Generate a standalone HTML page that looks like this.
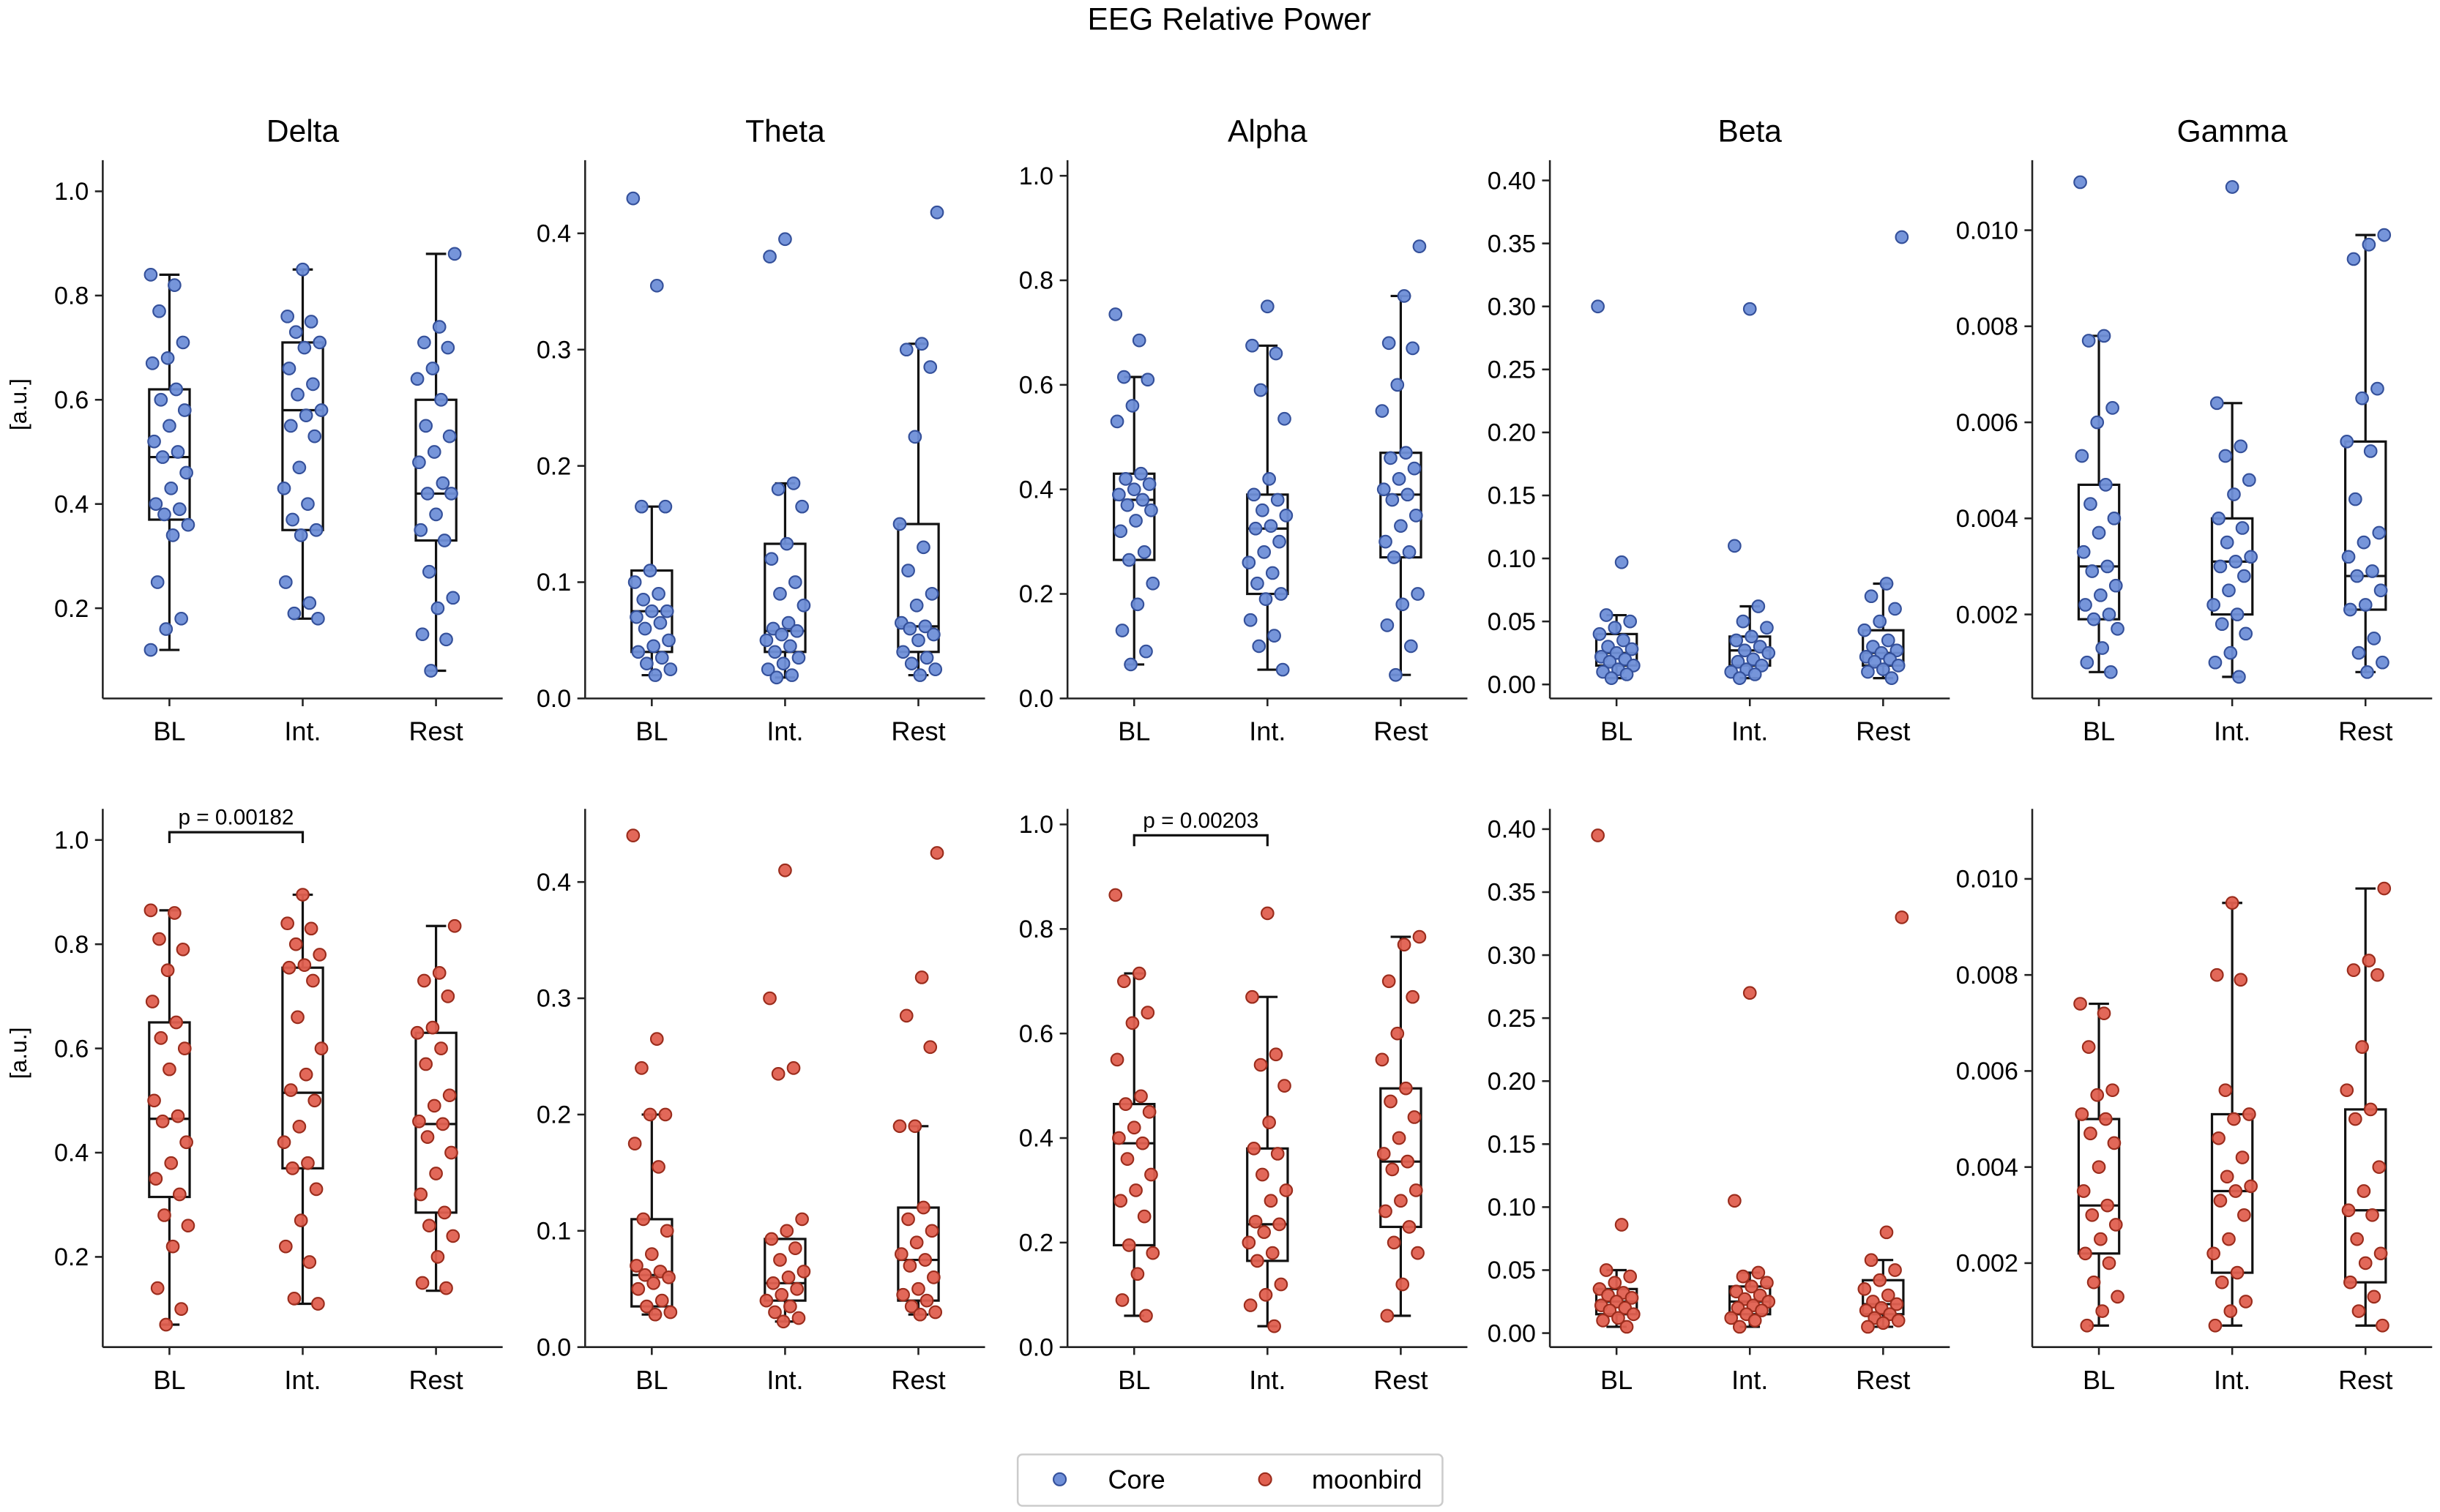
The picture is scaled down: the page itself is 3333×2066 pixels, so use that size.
<!DOCTYPE html>
<html><head><meta charset="utf-8"><style>
html,body{margin:0;padding:0;background:#fff}
svg{display:block;font-family:"Liberation Sans",Arial,sans-serif}
</style></head><body>
<svg id="fig" width="3333" height="2066" viewBox="0 0 1568 972" xmlns="http://www.w3.org/2000/svg">
<text x="790" y="19" font-size="20" text-anchor="middle">EEG Relative Power</text>
<g>
<rect x="654" y="935" width="273" height="33" rx="3" fill="#fff" stroke="#ccc" stroke-width="1.2"/>
<circle cx="681" cy="951" r="4" fill="#6f8fd8" stroke="#34509a" stroke-width="1"/>
<text x="712" y="957" font-size="17">Core</text>
<circle cx="813" cy="951" r="4" fill="#e06050" stroke="#9a2c1c" stroke-width="1"/>
<text x="843" y="957" font-size="17">moonbird</text>
</g>
</svg>
<script>
const bands=["Delta","Theta","Alpha","Beta","Gamma"];
const categories=["BL","Int.","Rest"];
// Per-band y ticks
const ticksDelta=[0.2,0.4,0.6,0.8,1.0];
const ticksTheta=[0.0,0.1,0.2,0.3,0.4];
const ticksAlpha=[0.0,0.2,0.4,0.6,0.8,1.0];
const ticksBeta=[0.00,0.05,0.10,0.15,0.20,0.25,0.30,0.35,0.40];
const ticksGamma=[0.002,0.004,0.006,0.008,0.010];
const tickDecimals=[1,1,1,2,3];
// Core (row 1) points
const coreDelta=[
[0.84,0.82,0.77,0.71,0.68,0.67,0.62,0.60,0.58,0.55,0.52,0.50,0.49,0.46,0.43,0.40,0.39,0.38,0.36,0.34,0.25,0.18,0.16,0.12],
[0.85,0.76,0.75,0.73,0.71,0.70,0.66,0.63,0.61,0.58,0.57,0.55,0.53,0.47,0.43,0.40,0.37,0.35,0.34,0.25,0.21,0.19,0.18],
[0.88,0.74,0.71,0.70,0.66,0.64,0.60,0.55,0.53,0.50,0.48,0.44,0.42,0.42,0.38,0.35,0.33,0.27,0.22,0.20,0.15,0.14,0.08]];
const coreTheta=[
[0.43,0.355,0.165,0.165,0.11,0.10,0.09,0.085,0.075,0.075,0.07,0.065,0.06,0.05,0.045,0.04,0.035,0.03,0.025,0.02],
[0.395,0.38,0.185,0.18,0.165,0.133,0.12,0.10,0.09,0.08,0.065,0.06,0.058,0.055,0.05,0.045,0.04,0.035,0.03,0.025,0.02,0.018],
[0.418,0.305,0.30,0.285,0.225,0.15,0.13,0.11,0.09,0.08,0.065,0.062,0.06,0.055,0.05,0.04,0.035,0.03,0.025,0.02]];
const coreAlpha=[
[0.735,0.685,0.615,0.61,0.56,0.53,0.43,0.42,0.41,0.40,0.39,0.38,0.37,0.36,0.34,0.32,0.28,0.265,0.22,0.18,0.13,0.09,0.065],
[0.75,0.675,0.66,0.59,0.535,0.42,0.39,0.38,0.36,0.35,0.33,0.325,0.30,0.28,0.26,0.24,0.22,0.20,0.19,0.15,0.12,0.10,0.055],
[0.865,0.77,0.68,0.67,0.6,0.55,0.47,0.46,0.44,0.42,0.40,0.39,0.38,0.35,0.33,0.30,0.28,0.27,0.2,0.18,0.14,0.1,0.045]];
const coreBeta=[
[0.30,0.097,0.055,0.05,0.045,0.04,0.035,0.03,0.028,0.025,0.022,0.02,0.018,0.015,0.012,0.01,0.008,0.005],
[0.298,0.11,0.062,0.05,0.045,0.038,0.035,0.03,0.027,0.025,0.02,0.018,0.015,0.012,0.01,0.008,0.005],
[0.355,0.08,0.07,0.06,0.05,0.043,0.035,0.03,0.027,0.025,0.022,0.02,0.018,0.015,0.012,0.01,0.005]];
const coreGamma=[
[0.011,0.0078,0.0077,0.0063,0.0060,0.0053,0.0047,0.0043,0.0040,0.0037,0.0033,0.0030,0.0029,0.0026,0.0024,0.0022,0.0020,0.0019,0.0017,0.0013,0.0010,0.0008],
[0.0109,0.0064,0.0055,0.0053,0.0048,0.0045,0.0040,0.0038,0.0035,0.0032,0.0031,0.0030,0.0028,0.0025,0.0022,0.0020,0.0018,0.0016,0.0012,0.0010,0.0007],
[0.0099,0.0097,0.0094,0.0067,0.0065,0.0056,0.0054,0.0044,0.0037,0.0035,0.0032,0.0029,0.0028,0.0025,0.0022,0.0021,0.0015,0.0012,0.0010,0.0008]];
// moonbird (row 2) points
const moonDelta=[
[0.865,0.86,0.81,0.79,0.75,0.69,0.65,0.62,0.60,0.56,0.50,0.47,0.46,0.42,0.38,0.35,0.32,0.28,0.26,0.22,0.14,0.10,0.07],
[0.895,0.84,0.83,0.80,0.78,0.76,0.755,0.73,0.66,0.60,0.55,0.52,0.50,0.45,0.42,0.38,0.37,0.33,0.27,0.22,0.19,0.12,0.11],
[0.835,0.745,0.73,0.70,0.64,0.63,0.60,0.57,0.51,0.49,0.46,0.455,0.43,0.40,0.36,0.32,0.285,0.26,0.24,0.20,0.15,0.14]];
const moonTheta=[
[0.44,0.265,0.24,0.20,0.20,0.175,0.155,0.11,0.10,0.08,0.07,0.065,0.062,0.06,0.055,0.05,0.04,0.035,0.03,0.028],
[0.41,0.30,0.24,0.235,0.11,0.10,0.093,0.085,0.075,0.065,0.06,0.055,0.05,0.045,0.04,0.035,0.03,0.025,0.022],
[0.425,0.318,0.285,0.258,0.19,0.19,0.12,0.11,0.10,0.09,0.08,0.075,0.07,0.06,0.05,0.045,0.04,0.035,0.03,0.028]];
const moonAlpha=[
[0.865,0.715,0.70,0.64,0.62,0.55,0.48,0.465,0.45,0.42,0.40,0.39,0.36,0.33,0.30,0.28,0.25,0.195,0.18,0.14,0.09,0.06],
[0.83,0.67,0.56,0.54,0.50,0.43,0.38,0.37,0.33,0.30,0.28,0.24,0.235,0.22,0.20,0.18,0.165,0.12,0.10,0.08,0.04],
[0.785,0.77,0.70,0.67,0.60,0.55,0.495,0.47,0.44,0.40,0.37,0.355,0.34,0.30,0.28,0.26,0.23,0.20,0.18,0.12,0.06]];
const moonBeta=[
[0.395,0.086,0.05,0.045,0.04,0.035,0.032,0.03,0.028,0.025,0.022,0.02,0.018,0.015,0.012,0.01,0.005],
[0.27,0.105,0.048,0.045,0.04,0.037,0.033,0.03,0.027,0.025,0.022,0.02,0.018,0.015,0.012,0.01,0.005],
[0.33,0.08,0.058,0.05,0.042,0.035,0.03,0.025,0.023,0.02,0.018,0.015,0.012,0.01,0.008,0.005]];
const moonGamma=[
[0.0074,0.0072,0.0065,0.0056,0.0055,0.0051,0.0050,0.0047,0.0045,0.0040,0.0035,0.0032,0.0030,0.0028,0.0025,0.0022,0.0020,0.0016,0.0013,0.0010,0.0007],
[0.0095,0.0080,0.0079,0.0056,0.0051,0.0050,0.0046,0.0042,0.0038,0.0036,0.0035,0.0033,0.0030,0.0025,0.0022,0.0018,0.0016,0.0012,0.0010,0.0007],
[0.0098,0.0083,0.0081,0.0080,0.0065,0.0056,0.0052,0.0050,0.0040,0.0035,0.0031,0.0030,0.0025,0.0022,0.0020,0.0016,0.0013,0.0010,0.0007]];
// Box stats [whiskerLo, q1, median, q3, whiskerHi]
const boxCore=[
[[0.12,0.37,0.49,0.62,0.84],[0.18,0.35,0.58,0.71,0.85],[0.08,0.33,0.42,0.60,0.88]],
[[0.02,0.04,0.075,0.11,0.165],[0.018,0.04,0.058,0.133,0.185],[0.02,0.04,0.062,0.15,0.305]],
[[0.065,0.265,0.38,0.43,0.615],[0.055,0.20,0.325,0.39,0.675],[0.045,0.27,0.39,0.47,0.77]],
[[0.005,0.015,0.025,0.04,0.055],[0.005,0.015,0.027,0.038,0.062],[0.005,0.015,0.025,0.043,0.08]],
[[0.0008,0.0019,0.0030,0.0047,0.0078],[0.0007,0.0020,0.0031,0.0040,0.0064],[0.0008,0.0021,0.0028,0.0056,0.0099]]];
const boxMoon=[
[[0.07,0.315,0.465,0.65,0.865],[0.11,0.37,0.515,0.755,0.895],[0.135,0.285,0.455,0.63,0.835]],
[[0.028,0.035,0.062,0.11,0.20],[0.022,0.04,0.055,0.093,0.093],[0.028,0.04,0.075,0.12,0.19]],
[[0.06,0.195,0.39,0.465,0.715],[0.04,0.165,0.235,0.38,0.67],[0.06,0.23,0.355,0.495,0.785]],
[[0.005,0.015,0.025,0.035,0.05],[0.005,0.015,0.025,0.037,0.048],[0.005,0.015,0.023,0.042,0.058]],
[[0.0007,0.0022,0.0032,0.0050,0.0074],[0.0007,0.0018,0.0035,0.0051,0.0095],[0.0007,0.0016,0.0031,0.0052,0.0098]]];
const pTexts=["p = 0.00182",null,"p = 0.00203",null,null];

// Axis calibration (value range mapped to pixel rows; row offset 417)
const axLo=[0.2,0.0,0.0,0.0,0.002], axHi=[1.0,0.4,1.0,0.4,0.010];
const pxLo=[391,449,449,440,395], pxHi=[123,150,113,116,148];
const coreAll=[coreDelta,coreTheta,coreAlpha,coreBeta,coreGamma];
const moonAll=[moonDelta,moonTheta,moonAlpha,moonBeta,moonGamma];
const tickAll=[ticksDelta,ticksTheta,ticksAlpha,ticksBeta,ticksGamma];

const NS="http://www.w3.org/2000/svg";
const svg=document.getElementById('fig');
function mk(tag,attrs,parent){const e=document.createElementNS(NS,tag);for(const k in attrs)e.setAttribute(k,attrs[k]);(parent||svg).appendChild(e);return e;}

for(let row=0;row<2;row++){
 for(let b=0;b<5;b++){
  const left=66+310*b, right=left+257, top=103+417*row, bot=449+417*row;
  const yOf=v=>pxLo[b]+417*row+(v-axLo[b])/(axHi[b]-axLo[b])*(pxHi[b]-pxLo[b]);
  const xOf=i=>left+(i+0.5)*(257/3);
  const g=mk('g',{});
  
  
  if(row===0){const t=mk('text',{x:(left+right)/2,y:91,'font-size':20,'text-anchor':'middle'},g);t.textContent=bands[b];
   
   }
  mk('line',{x1:left,y1:top,x2:left,y2:bot,stroke:'#222','stroke-width':1.2},g);
  mk('line',{x1:left,y1:bot,x2:right,y2:bot,stroke:'#222','stroke-width':1.2},g);
  tickAll[b].forEach(tv=>{
   const y=yOf(tv);
   mk('line',{x1:left-5,y1:y,x2:left,y2:y,stroke:'#222','stroke-width':1.2},g);
   const t=mk('text',{x:left-9,y:y+5.5,'font-size':16,'text-anchor':'end'},g);
   t.textContent=tv.toFixed(tickDecimals[b]);
   
   
  });
  categories.forEach((c,i)=>{
   const x=xOf(i);
   mk('line',{x1:x,y1:bot,x2:x,y2:bot+5,stroke:'#222','stroke-width':1.2},g);
   const t=mk('text',{x:x,y:bot+27,'font-size':17,'text-anchor':'middle'},g);
   t.textContent=c;
   
   
  });
  if(b===0){const t=mk('text',{x:17,y:(top+bot)/2-16,'font-size':15,'text-anchor':'middle',transform:`rotate(-90 17 ${(top+bot)/2-16})`},g);t.textContent='[a.u.]';
   
   }
  const boxes=(row?boxMoon:boxCore)[b], pts=(row?moonAll:coreAll)[b];
  categories.forEach((c,i)=>{
   const s=boxes[i], x=xOf(i), hw=13;
   const bg=mk('g',{fill:'none',stroke:'#111','stroke-width':1.5},g);
   
   
   mk('line',{x1:x,y1:yOf(s[0]),x2:x,y2:yOf(s[1])},bg);
   mk('line',{x1:x,y1:yOf(s[3]),x2:x,y2:yOf(s[4])},bg);
   mk('line',{x1:x-hw/2,y1:yOf(s[0]),x2:x+hw/2,y2:yOf(s[0])},bg);
   mk('line',{x1:x-hw/2,y1:yOf(s[4]),x2:x+hw/2,y2:yOf(s[4])},bg);
   mk('rect',{x:x-hw,y:yOf(s[3]),width:2*hw,height:yOf(s[1])-yOf(s[3])},bg);
   mk('line',{x1:x-hw,y1:yOf(s[2]),x2:x+hw,y2:yOf(s[2])},bg);
  });
  categories.forEach((c,i)=>{
   pts[i].forEach((v,k)=>{
    const off=(((k*37+i*11)%23)/22-0.5)*24;
    const p=mk('circle',{cx:xOf(i)+off,cy:yOf(v),r:3.9,fill:row?'#e06050':'#6f8fd8',stroke:row?'#9a2c1c':'#34509a','stroke-width':1,'fill-opacity':0.95},g);
    
    
   });
  });
  if(row===1&&pTexts[b]){
   const y=530+417*0+10, x1=xOf(0), x2=xOf(1);
   const by=b===0?535:537;
   mk('path',{d:`M${x1} ${by+7}V${by}H${x2}V${by+7}`,fill:'none',stroke:'#111','stroke-width':1.5},g);
   const t=mk('text',{x:(x1+x2)/2,y:by-5,'font-size':14,'text-anchor':'middle'},g);
   t.textContent=pTexts[b];
   
   
  }
 }
}
</script>
</body></html>
